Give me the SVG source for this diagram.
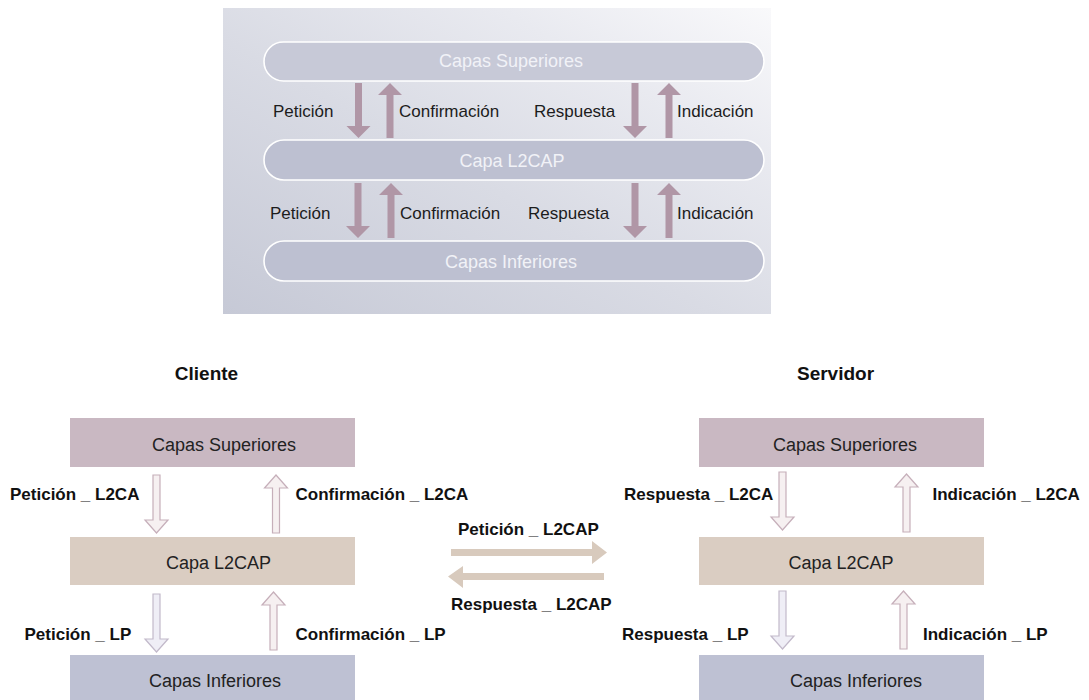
<svg xmlns="http://www.w3.org/2000/svg" xmlns:xlink="http://www.w3.org/1999/xlink" width="1089" height="700" viewBox="0 0 1089 700">
  <defs>
    <linearGradient id="panelGrad" x1="0" y1="1" x2="1" y2="0">
      <stop offset="0" stop-color="#c6c9d6"/>
      <stop offset="0.45" stop-color="#d9dbe4"/>
      <stop offset="0.75" stop-color="#e9eaf0"/>
      <stop offset="1" stop-color="#f9f9fb"/>
    </linearGradient>
    <path id="tdown" d="M-3.5,0 H3.5 V43 H12 L0,55 L-12,43 H-3.5 Z"/>
    <path id="tup" d="M-3.5,55 H3.5 V12 H12 L0,0 L-12,12 H-3.5 Z"/>
    <path id="bdown" d="M-3.5,0 H3.5 V45 H11.5 L0,58 L-11.5,45 H-3.5 Z"/>
    <path id="bup" d="M-3.5,58 H3.5 V13 H11.5 L0,0 L-11.5,13 H-3.5 Z"/>
  </defs>
  <style>
    .pill { fill: #bdc0d1; stroke: #ffffff; stroke-width: 1.6; }
    .pill1 { fill: #c7c9d7; }
    .pilltxt { font-family: "Liberation Sans", Arial, sans-serif; font-size: 18px; fill: #f1f2f7; text-anchor: middle; }
    .tlab { font-family: "Liberation Sans", Arial, sans-serif; font-size: 17px; fill: #1c1c1c; }
    .tarrow { fill: #b096a6; }
    .hdr { font-family: "Liberation Sans", Arial, sans-serif; font-size: 19px; font-weight: bold; fill: #111111; text-anchor: middle; }
    .blab { font-family: "Liberation Sans", Arial, sans-serif; font-size: 17px; font-weight: bold; fill: #111111; }
    .boxtxt { font-family: "Liberation Sans", Arial, sans-serif; font-size: 18px; fill: #222222; text-anchor: middle; }
    .sup { fill: #c9b8c2; }
    .l2c { fill: #dacdc2; }
    .inf { fill: #bec1d3; }
    .ha1 { fill: #f6f0f1; stroke: #c6afba; stroke-width: 1.2; }
    .ha2 { fill: #efeef6; stroke: #c2b9ca; stroke-width: 1.2; }
    .marrow { fill: #d8cabd; }
  </style>

  <!-- Top panel -->
  <g id="top-panel">
    <rect x="223" y="8" width="548" height="306" fill="url(#panelGrad)"/>
  </g>
  <g id="pill-superiores">
    <rect class="pill pill1" x="264" y="42" width="500" height="39" rx="19.5"/>
    <text class="pilltxt" x="511" y="66.5">Capas Superiores</text>
  </g>
  <g id="pill-l2cap">
    <rect class="pill" x="264" y="140" width="500" height="40" rx="20"/>
    <text class="pilltxt" x="512" y="166.5">Capa L2CAP</text>
  </g>
  <g id="pill-inferiores">
    <rect class="pill" x="264" y="241" width="500" height="40" rx="20"/>
    <text class="pilltxt" x="511" y="268">Capas Inferiores</text>
  </g>

  <!-- Bottom diagram nodes -->
  <text class="hdr" x="206.5" y="380">Cliente</text>
  <text class="hdr" x="835.5" y="380">Servidor</text>

  <g id="cli-superiores">
    <rect class="sup" x="70" y="418" width="285" height="49"/>
    <text class="boxtxt" x="224" y="451">Capas Superiores</text>
  </g>
  <g id="cli-l2cap">
    <rect class="l2c" x="70" y="537" width="285" height="48"/>
    <text class="boxtxt" x="218.5" y="569">Capa L2CAP</text>
  </g>
  <g id="cli-inferiores">
    <rect class="inf" x="70" y="655" width="285" height="45"/>
    <text class="boxtxt" x="215" y="687">Capas Inferiores</text>
  </g>

  <g id="srv-superiores">
    <rect class="sup" x="699" y="418" width="285" height="49"/>
    <text class="boxtxt" x="845" y="451">Capas Superiores</text>
  </g>
  <g id="srv-l2cap">
    <rect class="l2c" x="699" y="537" width="285" height="48"/>
    <text class="boxtxt" x="841" y="569">Capa L2CAP</text>
  </g>
  <g id="srv-inferiores">
    <rect class="inf" x="699" y="655" width="285" height="45"/>
    <text class="boxtxt" x="856" y="687">Capas Inferiores</text>
  </g>

  <!-- Connectors -->
  <g id="connectors">
    <!-- top panel arrows -->
    <use href="#tdown" class="tarrow" transform="translate(358.5,83)"/>
    <use href="#tup" class="tarrow" transform="translate(390,83)"/>
    <use href="#tdown" class="tarrow" transform="translate(635,83)"/>
    <use href="#tup" class="tarrow" transform="translate(669,83)"/>
    <use href="#tdown" class="tarrow" transform="translate(358,183)"/>
    <use href="#tup" class="tarrow" transform="translate(391,183)"/>
    <use href="#tdown" class="tarrow" transform="translate(635,183)"/>
    <use href="#tup" class="tarrow" transform="translate(669,183)"/>

    <!-- client arrows -->
    <use href="#bdown" class="ha1" transform="translate(156.5,475)"/>
    <use href="#bup" class="ha1" transform="translate(276,475)"/>
    <use href="#bdown" class="ha2" transform="translate(156.5,594)"/>
    <use href="#bup" class="ha1" transform="translate(273.5,592)"/>

    <!-- server arrows -->
    <use href="#bdown" class="ha1" transform="translate(782.5,472)"/>
    <use href="#bup" class="ha1" transform="translate(906.5,474)"/>
    <use href="#bdown" class="ha2" transform="translate(782.5,591)"/>
    <use href="#bup" class="ha1" transform="translate(903.5,591)"/>

    <!-- middle arrows -->
    <path class="marrow" d="M451,549 H592 V541 L607,552.5 L592,564 V556 H451 Z"/>
    <path class="marrow" d="M604,573 H463 V566 L448,576.5 L463,588 V580 H604 Z"/>
  </g>

  <!-- Top panel labels -->
  <g id="top-labels">
    <text class="tlab" x="273" y="117">Petición</text>
    <text class="tlab" x="399" y="117">Confirmación</text>
    <text class="tlab" x="534" y="117">Respuesta</text>
    <text class="tlab" x="677" y="117">Indicación</text>
    <text class="tlab" x="270" y="219">Petición</text>
    <text class="tlab" x="400" y="219">Confirmación</text>
    <text class="tlab" x="528" y="219">Respuesta</text>
    <text class="tlab" x="677" y="219">Indicación</text>
  </g>

  <!-- Bottom labels -->
  <g id="bottom-labels">
    <text class="blab" x="10" y="500">Petición _ L2CA</text>
    <text class="blab" x="295.5" y="500">Confirmación _ L2CA</text>
    <text class="blab" x="24.5" y="640">Petición _ LP</text>
    <text class="blab" x="295.5" y="640">Confirmación _ LP</text>
    <text class="blab" x="458" y="535">Petición _ L2CAP</text>
    <text class="blab" x="451" y="610">Respuesta _ L2CAP</text>
    <text class="blab" x="624" y="500">Respuesta _ L2CA</text>
    <text class="blab" x="932.5" y="500">Indicación _ L2CA</text>
    <text class="blab" x="622" y="640">Respuesta _ LP</text>
    <text class="blab" x="923" y="640">Indicación _ LP</text>
  </g>
</svg>
